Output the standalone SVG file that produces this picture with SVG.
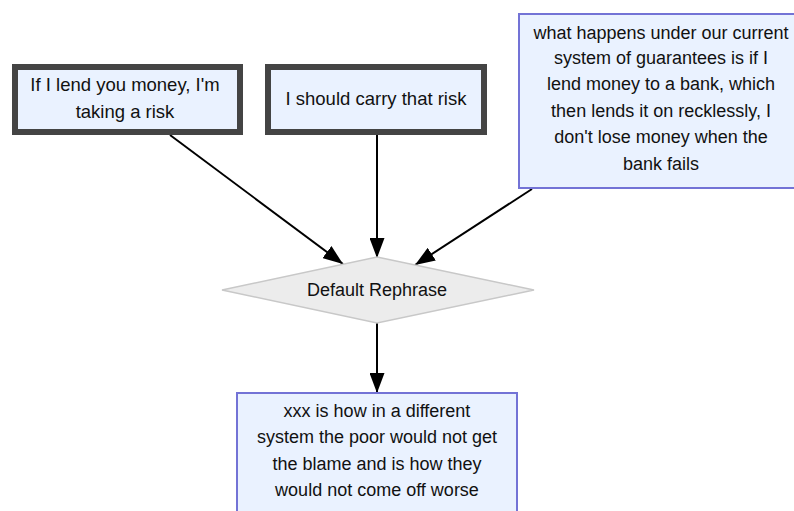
<svg xmlns="http://www.w3.org/2000/svg" width="794" height="511" viewBox="0 0 794 511">
  <defs>
    <marker id="arrow" viewBox="0 0 20 15" refX="20" refY="7.5" markerWidth="20" markerHeight="15" markerUnits="userSpaceOnUse" orient="auto">
      <path d="M0,0 L20,7.5 L0,15 z" fill="#000"/>
    </marker>
    <style>
      text { font-family: "Liberation Sans", Arial, sans-serif; font-size: 18px; fill: #111; text-anchor: middle; }
      .strong { fill: #eaf2ff; stroke: #444; stroke-width: 6; }
      .plain { fill: #eaf2ff; stroke: #7373d6; stroke-width: 2; }
      .decision { fill: #ececec; stroke: #c8c8c8; stroke-width: 1.5; }
      .edge { stroke: #000; stroke-width: 2; fill: none; marker-end: url(#arrow); }
    </style>
  </defs>
  <rect width="794" height="511" fill="#fff"/>

  <g id="edges">
    <line class="edge" x1="170" y1="135" x2="343" y2="264"/>
    <line class="edge" x1="377" y1="135" x2="377" y2="258"/>
    <line class="edge" x1="532" y1="189" x2="415" y2="265"/>
    <line class="edge" x1="377" y1="323" x2="377" y2="393"/>
  </g>

  <g id="lend-risk">
    <rect class="strong" x="15" y="67" width="225" height="65"/>
    <text x="125" y="91" style="font-size:18.5px">If I lend you money, I'm</text>
    <text x="125" y="118" style="font-size:18.5px">taking a risk</text>
  </g>

  <g id="carry-risk">
    <rect class="strong" x="268" y="67" width="216" height="65"/>
    <text x="376" y="105" style="font-size:18.5px">I should carry that risk</text>
  </g>

  <g id="guarantees">
    <rect class="plain" x="519" y="14" width="284" height="174"/>
    <text x="661" y="39">what happens under our current</text>
    <text x="661" y="64">system of guarantees is if I</text>
    <text x="661" y="90">lend money to a bank, which</text>
    <text x="661" y="117">then lends it on recklessly, I</text>
    <text x="661" y="143">don't lose money when the</text>
    <text x="661" y="170">bank fails</text>
  </g>

  <g id="default-rephrase">
    <polygon class="decision" points="377,257 534,290 377,323 222,290"/>
    <text x="377" y="296">Default Rephrase</text>
  </g>

  <g id="different-system">
    <rect class="plain" x="237" y="393" width="280" height="130"/>
    <text x="377" y="417">xxx is how in a different</text>
    <text x="377" y="443">system the poor would not get</text>
    <text x="377" y="470">the blame and is how they</text>
    <text x="377" y="496">would not come off worse</text>
  </g>
</svg>
